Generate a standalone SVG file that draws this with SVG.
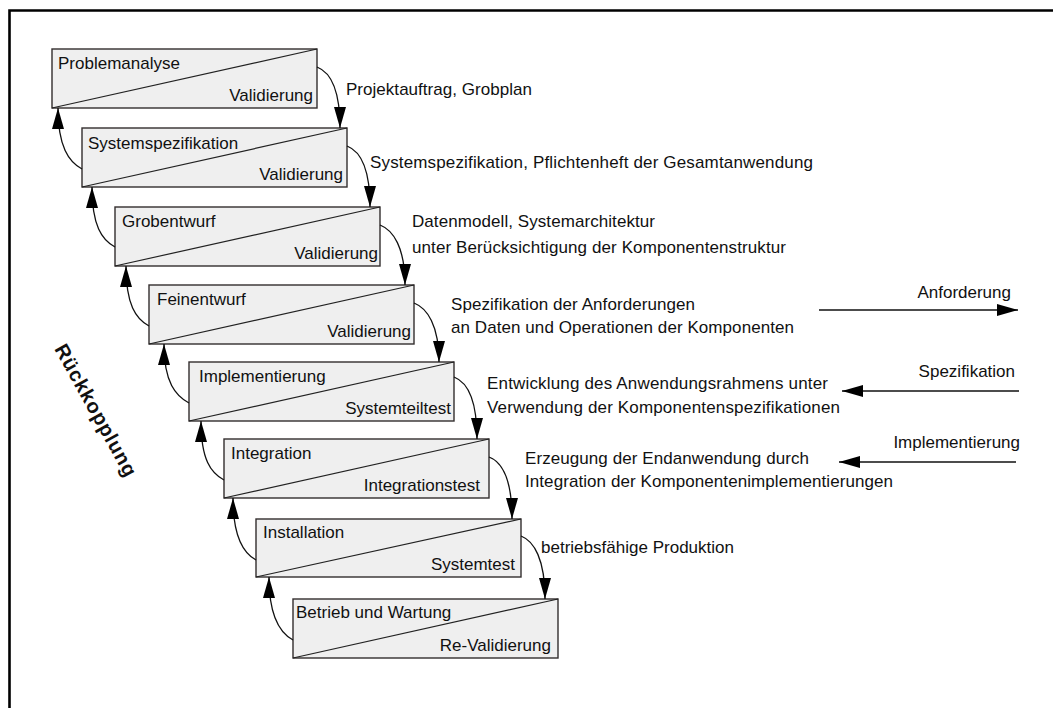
<svg xmlns="http://www.w3.org/2000/svg" width="1053" height="708" viewBox="0 0 1053 708">
  <defs>
    <style>
      .box rect { fill: #efefef; stroke: #332e2e; stroke-width: 1.4; }
      .box path { fill: none; stroke: #222; stroke-width: 1.2; }
      text { font-family: "Liberation Sans", Arial, sans-serif; font-size: 17px; fill: #111; }
      .end { text-anchor: end; }
      .conn path { fill: none; stroke: #111; stroke-width: 1.3; marker-end: url(#ah); }
      .fb { font-weight: bold; font-size: 20px; text-anchor: middle; }
    </style>
    <marker id="ah" markerUnits="userSpaceOnUse" markerWidth="22" markerHeight="12" refX="21" refY="6" orient="auto">
      <path d="M0,0 L21,6 L0,12 z" fill="#000"/>
    </marker>
  </defs>

  <rect width="1053" height="708" fill="#fff"/>
  <!-- frame: top and left edges only -->
  <path d="M9.5,708 V10.5 H1053" fill="none" stroke="#000" stroke-width="2.6"/>

  <!-- phases -->
  <g id="n1" class="box">
    <rect x="52" y="49" width="265" height="59"/>
    <path d="M52,108 L317,49"/>
    <text x="58" y="69">Problemanalyse</text>
    <text class="end" x="313" y="101">Validierung</text>
  </g>
  <g id="n2" class="box">
    <rect x="82" y="128" width="265" height="59"/>
    <path d="M82,187 L347,128"/>
    <text x="88" y="149">Systemspezifikation</text>
    <text class="end" x="343" y="180">Validierung</text>
  </g>
  <g id="n3" class="box">
    <rect x="115" y="207" width="265" height="59"/>
    <path d="M115,266 L380,207"/>
    <text x="122" y="227">Grobentwurf</text>
    <text class="end" x="378" y="259">Validierung</text>
  </g>
  <g id="n4" class="box">
    <rect x="149" y="285" width="265" height="59"/>
    <path d="M149,344 L414,285"/>
    <text x="157" y="305">Feinentwurf</text>
    <text class="end" x="411" y="337">Validierung</text>
  </g>
  <g id="n5" class="box">
    <rect x="189" y="362" width="265" height="59"/>
    <path d="M189,421 L454,362"/>
    <text x="199" y="382">Implementierung</text>
    <text class="end" x="451" y="414">Systemteiltest</text>
  </g>
  <g id="n6" class="box">
    <rect x="224" y="439" width="265" height="59"/>
    <path d="M224,498 L489,439"/>
    <text x="231" y="459">Integration</text>
    <text class="end" x="480" y="491">Integrationstest</text>
  </g>
  <g id="n7" class="box">
    <rect x="256" y="519" width="265" height="58"/>
    <path d="M256,577 L521,519"/>
    <text x="263" y="538">Installation</text>
    <text class="end" x="515" y="570">Systemtest</text>
  </g>
  <g id="n8" class="box">
    <rect x="293" y="599" width="265" height="59"/>
    <path d="M293,658 L558,599"/>
    <text x="296" y="618">Betrieb und Wartung</text>
    <text class="end" x="551" y="651">Re-Validierung</text>
  </g>

  <!-- connectors -->
  <g id="connectors" class="conn">
    <!-- forward: phase to next phase -->
    <path d="M317,67 C330,72 340,89 340,128"/>
    <path d="M347,146 C360,151 370,168 370,207"/>
    <path d="M380,225 C393,230 405,247 405,285"/>
    <path d="M414,303 C427,308 439,325 439,362"/>
    <path d="M454,377 C467,382 477,400 477,439"/>
    <path d="M489,457 C502,462 512,480 512,519"/>
    <path d="M521,536 C534,541 545,559 545,599"/>
    <!-- feedback: phase back to previous phase -->
    <path d="M82,169 C69,162 58,147 58,108"/>
    <path d="M115,247 C102,240 92,226 92,187"/>
    <path d="M149,326 C136,319 126,305 126,266"/>
    <path d="M189,403 C176,396 164,383 164,344"/>
    <path d="M224,480 C211,473 201,460 201,421"/>
    <path d="M256,560 C243,553 233,537 233,498"/>
    <path d="M293,640 C280,633 269,616 269,577"/>
    <!-- legend arrows -->
    <path d="M819,310 H1018"/>
    <path d="M1019,391 H842"/>
    <path d="M1016,462 H839"/>
  </g>

  <!-- transition notes -->
  <g id="notes">
    <text x="346" y="95" textLength="186">Projektauftrag, Grobplan</text>
    <text x="370" y="168" textLength="443">Systemspezifikation, Pflichtenheft der Gesamtanwendung</text>
    <text x="412" y="227" textLength="243">Datenmodell, Systemarchitektur</text>
    <text x="412" y="253" textLength="374">unter Berücksichtigung der Komponentenstruktur</text>
    <text x="451" y="310" textLength="244">Spezifikation der Anforderungen</text>
    <text x="451" y="333" textLength="343">an Daten und Operationen der Komponenten</text>
    <text x="487" y="389" textLength="341">Entwicklung des Anwendungsrahmens unter</text>
    <text x="487" y="413" textLength="353">Verwendung der Komponentenspezifikationen</text>
    <text x="525" y="464" textLength="284">Erzeugung der Endanwendung durch</text>
    <text x="525" y="487" textLength="368">Integration der Komponentenimplementierungen</text>
    <text x="541" y="553" textLength="193">betriebsfähige Produktion</text>
  </g>

  <!-- legend labels -->
  <g id="legend">
    <text class="end" x="1011" y="298">Anforderung</text>
    <text class="end" x="1015" y="377">Spezifikation</text>
    <text class="end" x="1020" y="448">Implementierung</text>
  </g>

  <text class="fb" transform="translate(96,410) rotate(61)" x="0" y="7" textLength="148">Rückkopplung</text>
</svg>
